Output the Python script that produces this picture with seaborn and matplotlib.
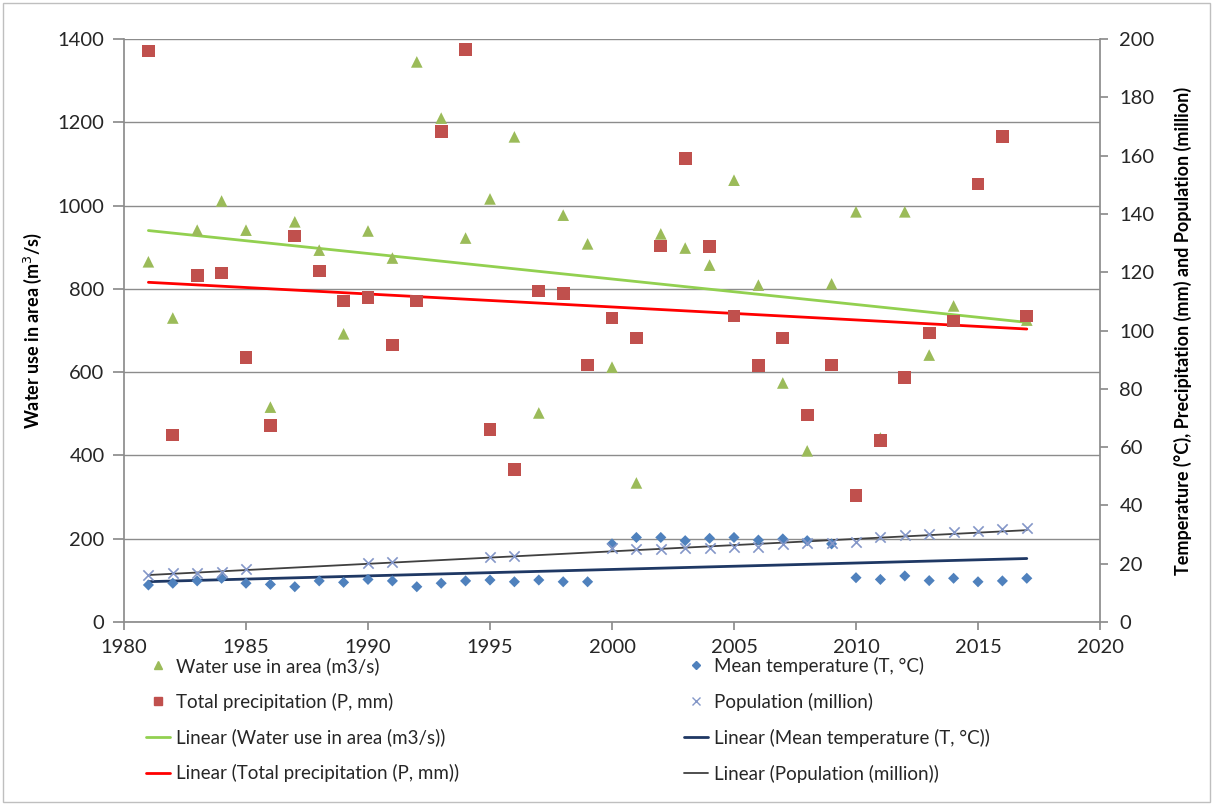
import numpy as np
import pandas as pd
import matplotlib
matplotlib.use("Agg")
import matplotlib.pyplot as plt
import seaborn as sns
from matplotlib.lines import Line2D
from matplotlib.patches import Rectangle

nan = np.nan
years = list(range(1981, 2018))
water_use = [865, 730, 941, 1011, 941, 516, 961, 893, 692, 939, 874, 1345, 1210, 922,
             1016, 1165, 502, 977, 908, 612, 334, 932, 898, 857, 1061, 809, 574, 411,
             812, 985, 442, 985, 641, 759, nan, nan, 725]
precipitation = [1371, 449, 833, 838, 636, 471, 927, 843, 771, 780, 665, 771, 1177, 1374,
                 463, 367, 795, 788, 617, 730, 682, 903, 1114, 901, 735, 615, 682, 497,
                 617, 303, 435, 588, 694, 723, 1052, 1165, 735]
temperature = [12.7, 13.3, 14.1, 15.0, 13.3, 12.9, 12.1, 14.1, 13.6, 14.6, 14.1, 12.1,
               13.3, 14.1, 14.4, 13.8, 14.4, 13.8, 13.8, 26.8, 29.0, 29.0, 27.9, 28.7,
               29.0, 28.1, 28.5, 27.9, 26.8, 15.2, 14.6, 15.8, 14.2, 15.0, 13.8, 14.1, 15.0]
population = [16.1, 16.7, 16.9, 17.3, 18.1, nan, nan, nan, nan, 20.1, 20.7, nan, nan, nan,
              22.3, 22.8, nan, nan, nan, 25.3, 24.9, 24.9, 25.3, 25.3, 25.8, 25.8, 26.6,
              27.0, 27.0, 27.3, 29.3, 29.8, 30.1, 30.8, 31.3, 31.9, 32.1]

labels = ["Water use in area (m3/s)", "Total precipitation (P, mm)",
          "Mean temperature (T, °C)", "Population (million)"]

df = pd.DataFrame({"year": years, "water": water_use, "precip": precipitation,
                   "temp": temperature, "pop": population})

sns.set_theme(style="white")
plt.rcParams["font.family"] = ["Lato", "DejaVu Sans"]

c_water, c_precip, c_temp, c_pop = "#9BBB59", "#C0504D", "#4F81BD", "#8497C8"
l_water, l_precip, l_temp, l_pop = "#92D050", "#FF0000", "#1F3864", "#404040"

fig = plt.figure(figsize=(12.13, 8.05), dpi=100)
ax = fig.add_axes([124/1213, 1-622/805, (1100-124)/1213, (622-39)/805])
ax2 = ax.twinx()

sns.regplot(data=df, x="year", y="water", scatter=False, ci=None, ax=ax,
            line_kws=dict(color=l_water, lw=2))
sns.regplot(data=df, x="year", y="precip", scatter=False, ci=None, ax=ax,
            line_kws=dict(color=l_precip, lw=2))
sns.regplot(data=df, x="year", y="temp", scatter=False, ci=None, ax=ax2,
            line_kws=dict(color=l_temp, lw=2))
sns.regplot(data=df, x="year", y="pop", scatter=False, ci=None, ax=ax2,
            line_kws=dict(color=l_pop, lw=1.3))

sns.scatterplot(data=df, x="year", y="water", marker="^", s=70, color=c_water,
                edgecolor="none", ax=ax, zorder=3)
sns.scatterplot(data=df, x="year", y="precip", marker="s", s=85, color=c_precip,
                edgecolor="none", ax=ax, zorder=3)
sns.scatterplot(data=df, x="year", y="temp", marker="D", s=32, color=c_temp,
                edgecolor="none", ax=ax2, zorder=3)
sns.scatterplot(data=df, x="year", y="pop", marker="x", s=55, color=c_pop,
                linewidth=1.2, ax=ax2, zorder=3)

ax.set_xlim(1980, 2020)
ax.set_ylim(0, 1400)
ax2.set_ylim(0, 200)
ax.set_xticks(range(1980, 2021, 5))
ax.set_yticks(range(0, 1401, 200))
ax2.set_yticks(range(0, 201, 20))

ax.grid(axis="y", color="#8c8c8c", lw=1)
ax.set_axisbelow(True)
for a in (ax, ax2):
    a.spines["top"].set_visible(False)
    for s in ("left", "right", "bottom"):
        a.spines[s].set_color("#8c8c8c")
ax.spines["right"].set_visible(False)
ax2.spines["left"].set_visible(False)
ax2.spines["bottom"].set_visible(False)

ax.tick_params(axis="y", direction="out", length=8, color="#8c8c8c", labelsize=14.5,
               labelcolor="#262626", left=True, pad=6)
ax.tick_params(axis="x", direction="out", length=6, color="#8c8c8c", labelsize=14.5,
               labelcolor="#262626", bottom=True, pad=6)
ax2.tick_params(axis="y", direction="out", length=6, color="#8c8c8c", labelsize=14.5,
                labelcolor="#262626", right=True, pad=8)

ax.set_xlabel("")
ax.set_ylabel("Water use in area (m$^3$/s)", fontsize=13, fontweight="bold",
              color="#000000", labelpad=10)
ax2.set_ylabel("Temperature (°C), Precipitation (mm) and Population (million)",
               fontsize=13, fontweight="bold", color="#000000", labelpad=14)

handles = [
    Line2D([], [], ls="none", marker="^", ms=6, color=c_water),
    Line2D([], [], ls="none", marker="s", ms=6, color=c_precip),
    Line2D([], [], color=l_water, lw=2),
    Line2D([], [], color=l_precip, lw=2),
    Line2D([], [], ls="none", marker="D", ms=4, color=c_temp),
    Line2D([], [], ls="none", marker="x", ms=6, color=c_pop),
    Line2D([], [], color=l_temp, lw=2),
    Line2D([], [], color=l_pop, lw=1.3),
]
leg_labels = [labels[0], labels[1], "Linear (" + labels[0] + ")", "Linear (" + labels[1] + ")",
              labels[2], labels[3], "Linear (" + labels[2] + ")", "Linear (" + labels[3] + ")"]
fig.legend(handles, leg_labels, ncol=2, loc="upper left", bbox_to_anchor=(129/1213, 1-640/805),
           frameon=False, fontsize=13.5, handlelength=1.3, handletextpad=0.3,
           columnspacing=12.0, labelspacing=0.95, labelcolor="#262626")

fig.patches.append(Rectangle((3/1213, 3/805), 1-6/1213, 1-6/805, transform=fig.transFigure,
                             fill=False, edgecolor="#bfbfbf", lw=1))

fig.savefig("out.png", dpi=100)
